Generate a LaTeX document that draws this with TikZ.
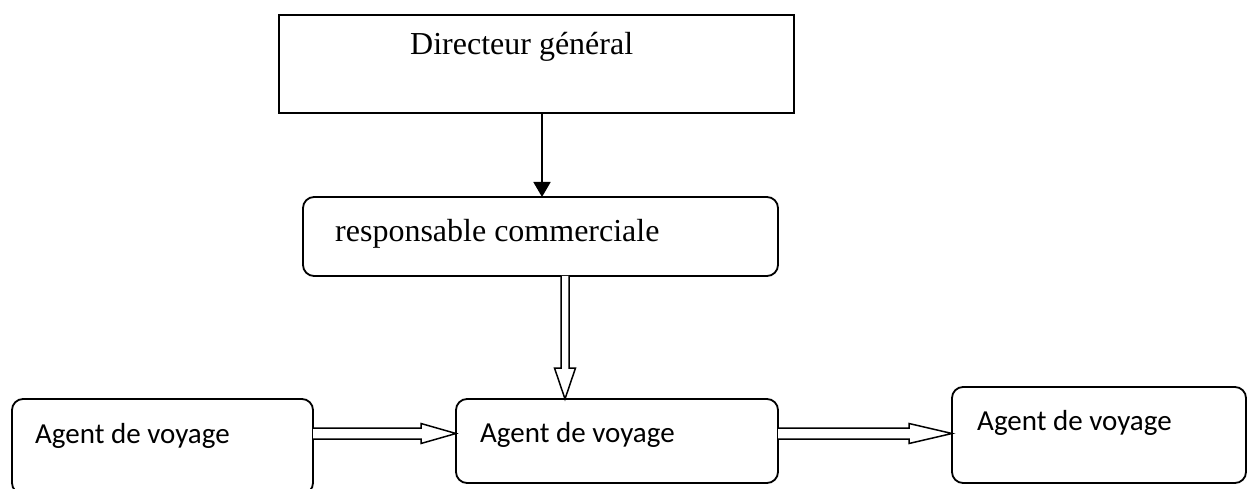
\documentclass[tikz,border=0pt]{standalone}
\usepackage{fontspec}
\setmainfont{Liberation Serif}
\newfontfamily\agentfont{Carlito}
\usetikzlibrary{arrows.meta,calc}
\begin{document}
\begin{tikzpicture}[x=1pt,y=-1pt,
  boxstyle/.style={draw,line width=1.8pt,rectangle,inner sep=0pt,outer sep=0pt,anchor=north west},
  roundbox/.style={boxstyle,rounded corners=11pt},
  serifl/.style={font=\fontsize{32}{38}\selectfont},
  agentl/.style={font=\agentfont\fontsize{29}{35}\selectfont},
  hollow/.style={draw,line width=1.5pt,line join=miter,fill=white},
  solidarrow/.style={line width=1.8pt,-{Triangle[length=15pt,width=17pt]}}
]
\useasboundingbox (0,0) rectangle (1248,489);
\begin{scope}
\clip (0,0) rectangle (1248,489);
\node[boxstyle,minimum width=515pt,minimum height=98pt,
  label={[serifl,anchor=base west,inner sep=0pt,xshift=131pt,yshift=-40pt]north west:Directeur général}]
  (dg) at (279,15) {};
\node[roundbox,minimum width=475pt,minimum height=79pt,
  label={[serifl,anchor=base west,inner sep=0pt,xshift=32pt,yshift=-45pt]north west:responsable commerciale}]
  (rc) at (303,197) {};
\node[roundbox,minimum width=301pt,minimum height=95pt,
  label={[agentl,anchor=base west,inner sep=0pt,xshift=23pt,yshift=-44pt]north west:Agent de voyage}]
  (a1) at (12,399) {};
\node[roundbox,minimum width=322pt,minimum height=84pt,
  label={[agentl,anchor=base west,inner sep=0pt,xshift=24pt,yshift=-43pt]north west:Agent de voyage}]
  (a2) at (456,399) {};
\node[roundbox,minimum width=294pt,minimum height=96pt,
  label={[agentl,anchor=base west,inner sep=0pt,xshift=25pt,yshift=-43pt]north west:Agent de voyage}]
  (a3) at (952,387) {};
\end{scope}
% solid arrow
\coordinate (s1) at ($(dg.south)+(5.5,0)$);
\draw[solidarrow] (s1) -- (s1 |- rc.north);
% hollow vertical arrow
\coordinate (vt) at ($(a2.north west)+(109,0)$);
\coordinate (vs) at (vt |- rc.south);
\path[hollow] ($(vs)+(-4,0)$) -- ($(vt)+(-4,-31)$) -- ($(vt)+(-10.5,-31)$) -- (vt)
  -- ($(vt)+(10.5,-31)$) -- ($(vt)+(4,-31)$) -- ($(vs)+(4,0)$);
% hollow horizontal arrow 1
\coordinate (h1s) at ($(a1.north east)+(0,34.5)$);
\coordinate (h1t) at (h1s -| a2.west);
\path[hollow] ($(h1s)+(0,-5.5)$) -- ($(h1t)+(-35,-5.5)$) -- ($(h1t)+(-35,-10)$) -- (h1t)
  -- ($(h1t)+(-35,10)$) -- ($(h1t)+(-35,5.5)$) -- ($(h1s)+(0,5.5)$);
% hollow horizontal arrow 2
\coordinate (h2s) at ($(a2.north east)+(0,34.5)$);
\coordinate (h2t) at (h2s -| a3.west);
\path[hollow] ($(h2s)+(0,-5.5)$) -- ($(h2t)+(-43,-5.5)$) -- ($(h2t)+(-43,-10)$) -- (h2t)
  -- ($(h2t)+(-43,10)$) -- ($(h2t)+(-43,5.5)$) -- ($(h2s)+(0,5.5)$);
\end{tikzpicture}
\end{document}
